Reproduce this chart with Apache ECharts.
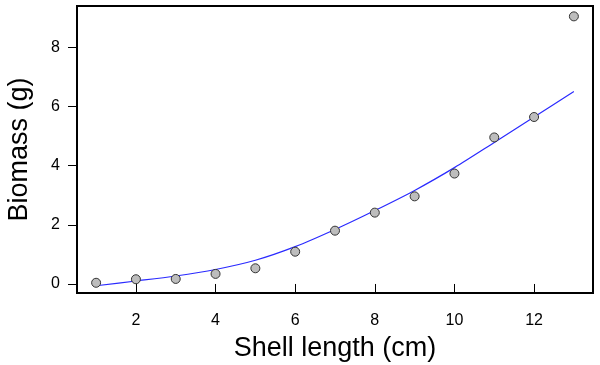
<!DOCTYPE html>
<html>
<head>
<meta charset="utf-8">
<script src="https://cdn.jsdelivr.net/npm/echarts@6/dist/echarts.min.js"></script>
<style>html,body{margin:0;padding:0;background:#fff}#c{width:600px;height:365px}</style>
</head>
<body>
<div id="c"></div>
<script>
const shellLength = [1, 2, 3, 4, 5, 6, 7, 8, 9, 10, 11, 12, 13];
const biomass = [0.04, 0.16, 0.17, 0.34, 0.53, 1.09, 1.80, 2.41, 2.96, 3.73, 4.95, 5.64, 9.04];
const fitX = [1, 2, 3, 4, 5, 6, 7, 8, 9, 10, 11, 12, 13];
const fitY = [-0.06, 0.10, 0.27, 0.49, 0.80, 1.26, 1.84, 2.48, 3.16, 3.93, 4.78, 5.64, 6.50];
const xTicks = [2, 4, 6, 8, 10, 12];
const yTicks = [0, 2, 4, 6, 8];

const font = '"Liberation Sans", Arial, sans-serif';
const chart = echarts.init(document.getElementById('c'), null, {renderer: 'canvas'});
chart.setOption({
  animation: false,
  grid: {left: 77, right: 7, top: 6, bottom: 72, show: true, borderColor: '#000', borderWidth: 2,
         backgroundColor: 'transparent', containLabel: false, outerBoundsMode: 'none'},
  xAxis: {
    type: 'value', min: 0.52, max: 13.48,
    name: 'Shell length (cm)', nameLocation: 'middle', nameGap: 42,
    nameTextStyle: {fontFamily: font, fontSize: 27, color: '#000'},
    axisLine: {show: false},
    axisTick: {show: true, length: 9, lineStyle: {color: '#000', width: 1}, customValues: xTicks},
    axisLabel: {fontFamily: font, fontSize: 16, color: '#000', margin: 20, customValues: xTicks},
    splitLine: {show: false}
  },
  yAxis: {
    type: 'value', min: -0.305, max: 9.39,
    name: 'Biomass (g)', nameLocation: 'middle', nameGap: 44,
    nameTextStyle: {fontFamily: font, fontSize: 27, color: '#000'},
    axisLine: {show: false},
    axisTick: {show: true, length: 9, lineStyle: {color: '#000', width: 1}, customValues: yTicks},
    axisLabel: {fontFamily: font, fontSize: 16, color: '#000', margin: 17, customValues: yTicks},
    splitLine: {show: false}
  },
  series: [
    {
      type: 'line', data: fitX.map((x, i) => [x, fitY[i]]),
      showSymbol: false, smooth: 0.3,
      lineStyle: {color: '#2a2aff', width: 1.2}, z: 2
    },
    {
      type: 'scatter', data: shellLength.map((x, i) => [x, biomass[i]]),
      symbol: 'circle', symbolSize: 9,
      itemStyle: {color: '#bdbdbd', borderColor: '#333', borderWidth: 1, opacity: 1}, z: 3
    }
  ]
});
</script>
</body>
</html>
